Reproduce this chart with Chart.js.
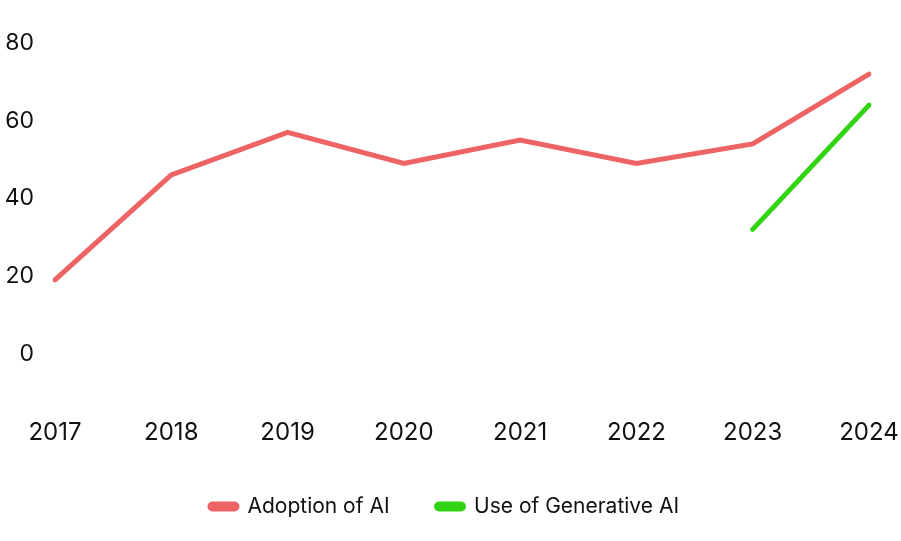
<!DOCTYPE html>
<html>
<head>
<meta charset="utf-8">
<script src="https://cdn.jsdelivr.net/npm/chart.js@4.4.1/dist/chart.umd.min.js"></script>
<style>
  html, body { margin: 0; padding: 0; background: #fff; }
  #wrap { width: 901px; height: 541px; }
</style>
</head>
<body>
<div id="wrap"><canvas id="chart" width="901" height="541"></canvas></div>
<script>
const years = ['2017', '2018', '2019', '2020', '2021', '2022', '2023', '2024'];
const adoption = [19, 46, 57, 49, 55, 49, 54, 72];
const genAI = [null, null, null, null, null, null, 32, 64];
const yTicks = [0, 20, 40, 60, 80];

// nudge the legend a bit to the right so it is centred like the original
const legendShift = {
    id: 'legendShift',
    afterLayout(chart) {
        chart.legend.left += 10;
        chart.legend.right += 10;
    }
};

const ctx = document.getElementById('chart').getContext('2d');
new Chart(ctx, {
    type: 'line',
    data: {
        labels: years,
        datasets: [{
            label: 'Adoption of AI',
            data: adoption,
            borderColor: '#ee6363',
            backgroundColor: '#ee6363',
            borderWidth: 5,
            borderCapStyle: 'round',
            pointRadius: 0,
            tension: 0
        }, {
            label: 'Use of Generative AI',
            data: genAI,
            borderColor: '#33d414',
            backgroundColor: '#33d414',
            borderWidth: 5,
            borderCapStyle: 'round',
            pointRadius: 0,
            tension: 0
        }]
    },
    options: {
        responsive: false,
        animation: false,
        layout: { autoPadding: false, padding: { top: 43, left: 0, right: 32, bottom: 14 } },
        plugins: {
            tooltip: { enabled: false },
            legend: {
                position: 'bottom',
                labels: {
                    color: '#111',
                    font: { family: 'Inter', size: 21 },
                    boxWidth: 27,
                    boxHeight: 5,
                    padding: 47,
                    useBorderRadius: true,
                    borderRadius: 2.5
                }
            }
        },
        scales: {
            x: {
                grid: { display: false },
                border: { display: false },
                afterFit: (axis) => {
                    axis.height -= 8;
                    axis.paddingLeft = 0;
                    axis.paddingRight = 0;
                },
                ticks: {
                    color: '#111',
                    font: { family: 'Inter', size: 24 },
                    maxRotation: 0,
                    padding: 10
                }
            },
            y: {
                min: -12,
                max: 80,
                grid: { display: false },
                border: { display: false },
                afterFit: (axis) => { axis.width = 55; },
                afterBuildTicks: (axis) => {
                    axis.ticks = yTicks.map(v => ({ value: v }));
                },
                ticks: {
                    color: '#111',
                    font: { family: 'Inter', size: 23 },
                    padding: 13
                }
            }
        }
    },
    plugins: [legendShift]
});
</script>
</body>
</html>
